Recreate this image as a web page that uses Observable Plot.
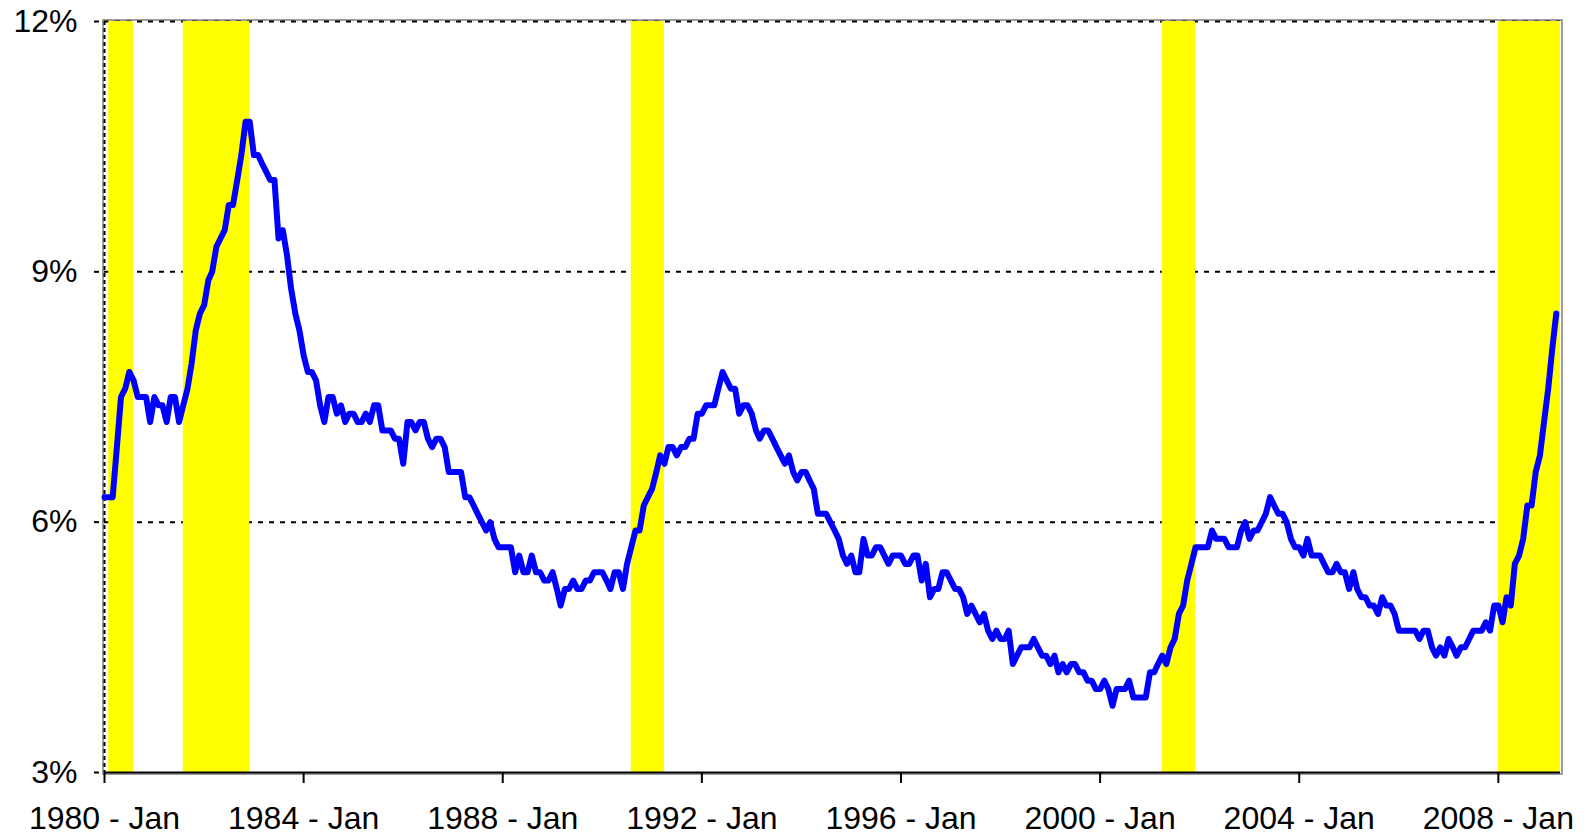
<!DOCTYPE html>
<html>
<head>
<meta charset="utf-8">
<script src="https://cdn.jsdelivr.net/npm/d3@7"></script>
<script src="https://cdn.jsdelivr.net/npm/@observablehq/plot@0.6"></script>
<style>
  html, body { margin: 0; padding: 0; background: #ffffff; }
  svg { display: block; }
</style>
</head>
<body>
<div id="chart"></div>
<script>
// Monthly unemployment rate (%), starting January 1980
const startYear = 1980;
const rate1980s = [
  6.3,6.3,6.3,6.9,7.5,7.6,7.8,7.7,7.5,7.5,7.5,7.2,
  7.5,7.4,7.4,7.2,7.5,7.5,7.2,7.4,7.6,7.9,8.3,8.5,
  8.6,8.9,9.0,9.3,9.4,9.5,9.8,9.8,10.1,10.4,10.8,10.8,
  10.4,10.4,10.3,10.2,10.1,10.1,9.4,9.5,9.2,8.8,8.5,8.3,
  8.0,7.8,7.8,7.7,7.4,7.2,7.5,7.5,7.3,7.4,7.2,7.3,
  7.3,7.2,7.2,7.3,7.2,7.4,7.4,7.1,7.1,7.1,7.0,7.0,
  6.7,7.2,7.2,7.1,7.2,7.2,7.0,6.9,7.0,7.0,6.9,6.6,
  6.6,6.6,6.6,6.3,6.3,6.2,6.1,6.0,5.9,6.0,5.8,5.7,
  5.7,5.7,5.7,5.4,5.6,5.4,5.4,5.6,5.4,5.4,5.3,5.3,
  5.4,5.2,5.0,5.2,5.2,5.3,5.2,5.2,5.3,5.3,5.4,5.4
];
const rate1990s = [
  5.4,5.3,5.2,5.4,5.4,5.2,5.5,5.7,5.9,5.9,6.2,6.3,
  6.4,6.6,6.8,6.7,6.9,6.9,6.8,6.9,6.9,7.0,7.0,7.3,
  7.3,7.4,7.4,7.4,7.6,7.8,7.7,7.6,7.6,7.3,7.4,7.4,
  7.3,7.1,7.0,7.1,7.1,7.0,6.9,6.8,6.7,6.8,6.6,6.5,
  6.6,6.6,6.5,6.4,6.1,6.1,6.1,6.0,5.9,5.8,5.6,5.5,
  5.6,5.4,5.4,5.8,5.6,5.6,5.7,5.7,5.6,5.5,5.6,5.6,
  5.6,5.5,5.5,5.6,5.6,5.3,5.5,5.1,5.2,5.2,5.4,5.4,
  5.3,5.2,5.2,5.1,4.9,5.0,4.9,4.8,4.9,4.7,4.6,4.7,
  4.6,4.6,4.7,4.3,4.4,4.5,4.5,4.5,4.6,4.5,4.4,4.4,
  4.3,4.4,4.2,4.3,4.2,4.3,4.3,4.2,4.2,4.1,4.1,4.0
];
const rate2000s = [
  4.0,4.1,4.0,3.8,4.0,4.0,4.0,4.1,3.9,3.9,3.9,3.9,
  4.2,4.2,4.3,4.4,4.3,4.5,4.6,4.9,5.0,5.3,5.5,5.7,
  5.7,5.7,5.7,5.9,5.8,5.8,5.8,5.7,5.7,5.7,5.9,6.0,
  5.8,5.9,5.9,6.0,6.1,6.3,6.2,6.1,6.1,6.0,5.8,5.7,
  5.7,5.6,5.8,5.6,5.6,5.6,5.5,5.4,5.4,5.5,5.4,5.4,
  5.2,5.4,5.2,5.1,5.1,5.0,5.0,4.9,5.1,5.0,5.0,4.9,
  4.7,4.7,4.7,4.7,4.7,4.6,4.7,4.7,4.5,4.4,4.5,4.4,
  4.6,4.5,4.4,4.5,4.5,4.6,4.7,4.7,4.7,4.8,4.7,5.0,
  5.0,4.8,5.1,5.0,5.5,5.6,5.8,6.2,6.2,6.6,6.8,7.2,
  7.6,8.1,8.5
];

// Recession periods (shaded), as [year, month] start and end (month 1-12)
const recessionStart = [[1980,2],[1981,8],[1990,8],[2001,4],[2008,1]];
const recessionEnd   = [[1980,8],[1982,12],[1991,4],[2001,12],[2009,4]];

// Axis ticks
const xTickYears = [1980,1984,1988,1992,1996,2000,2004,2008];
const yTicks = [3,6,9,12];
const xDomainEnd = [2009,4];

const rates = [...rate1980s, ...rate1990s, ...rate2000s];
const data = rates.map((v, i) => ({
  date: new Date(Date.UTC(startYear + Math.floor(i / 12), i % 12, 1)),
  rate: v
}));
const ym = ([y, m]) => new Date(Date.UTC(y, m - 1, 1));
const recessions = recessionStart.map((s, i) => ({start: ym(s), end: ym(recessionEnd[i])}));
const xTicks = xTickYears.map(y => new Date(Date.UTC(y, 0, 1)));
const font = "'Liberation Sans', Arial, sans-serif";

const chart = Plot.plot({
  width: 1591,
  height: 838,
  marginTop: 21,
  marginRight: 31,
  marginBottom: 66,
  marginLeft: 104,
  style: {fontFamily: font, background: "#ffffff", color: "#000000"},
  x: {type: "utc", domain: [new Date(Date.UTC(startYear, 0, 1)), ym(xDomainEnd)]},
  y: {domain: [yTicks[0], yTicks[yTicks.length - 1]]},
  marks: [
    Plot.frame({stroke: "#808080", strokeWidth: 1.5, inset: -1.5}),
    Plot.ruleY(yTicks.slice(1), {stroke: "#000000", strokeWidth: 2, strokeDasharray: "5,6"}),
    Plot.ruleX([new Date(Date.UTC(startYear, 0, 1))], {stroke: "#000000", strokeWidth: 2, strokeDasharray: "4,3"}),
    Plot.rect(recessions, {x1: "start", x2: "end", y1: yTicks[0], y2: yTicks[yTicks.length - 1], fill: "#ffff00"}),
    Plot.ruleY([yTicks[0]], {stroke: "#000000", strokeWidth: 2}),
    Plot.line(data, {x: "date", y: "rate", stroke: "#0000ff", strokeWidth: 6, strokeLinejoin: "round", strokeLinecap: "round"}),
    Plot.axisX({
      ticks: xTicks,
      tickFormat: d => `${d.getUTCFullYear()} - Jan`,
      tickSize: 11,
      tickPadding: 23,
      fontSize: 32,
      strokeWidth: 2,
      stroke: "#000000",
      fill: "#000000",
      label: null
    }),
    Plot.axisY({
      ticks: yTicks,
      tickFormat: d => `${d}%`,
      tickSize: 5,
      tickPadding: 17,
      dx: -5,
      fontSize: 32,
      strokeWidth: 2,
      stroke: "#000000",
      fill: "#000000",
      label: null
    })
  ]
});
document.getElementById("chart").appendChild(chart);
</script>
</body>
</html>
